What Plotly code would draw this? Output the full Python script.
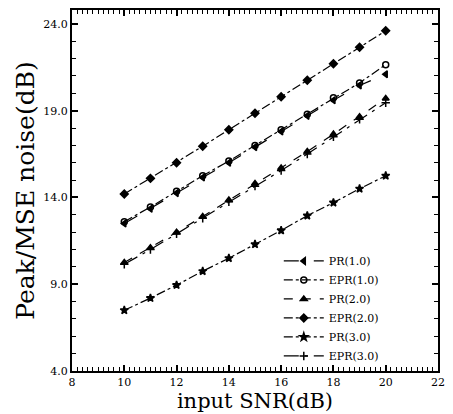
import plotly.graph_objects as go

snr = [10, 11, 12, 13, 14, 15, 16, 17, 18, 19, 20]

pr10 = [12.5, 13.35, 14.25, 15.15, 16.0, 16.9, 17.8, 18.7, 19.6, 20.45, 21.1]
epr10 = [12.6, 13.45, 14.35, 15.25, 16.1, 17.0, 17.9, 18.8, 19.75, 20.6, 21.65]
pr20 = [10.25, 11.1, 12.0, 12.9, 13.85, 14.8, 15.7, 16.65, 17.65, 18.65, 19.7]
epr20 = [14.2, 15.1, 16.0, 16.95, 17.9, 18.85, 19.8, 20.75, 21.7, 22.65, 23.6]
pr30 = [7.5, 8.2, 8.95, 9.75, 10.5, 11.3, 12.1, 12.95, 13.7, 14.5, 15.25]
epr30 = [10.15, 11.0, 11.9, 12.8, 13.75, 14.65, 15.55, 16.5, 17.5, 18.5, 19.45]

names = ["PR(1.0)", "EPR(1.0)", "PR(2.0)", "EPR(2.0)", "PR(3.0)", "EPR(3.0)"]
series = [pr10, epr10, pr20, epr20, pr30, epr30]
symbols = ["triangle-left", "circle-open", "triangle-up", "diamond", "star", "cross-thin-open"]
dashes = ["longdash", "dashdot", "dash", "dashdot", "dashdot", "longdashdot"]

font_family = "DejaVu Serif"

fig = go.Figure()
for name, ys, sym, dsh in zip(names, series, symbols, dashes):
    fig.add_trace(go.Scatter(
        x=snr, y=ys, name=name, mode="lines+markers",
        line=dict(color="black", width=1.2, dash=dsh),
        marker=dict(symbol=sym, size=6, color="black",
                    line=dict(color="black", width=1.5)),
    ))

axis_common = dict(
    showline=True, linecolor="black", linewidth=2, mirror="allticks",
    ticks="inside", tickcolor="black", ticklen=6, tickwidth=1.5,
    showgrid=False, zeroline=False,
    tickfont=dict(family=font_family, size=11, color="black"),
)

fig.update_xaxes(
    range=[8, 22], tickvals=[8, 10, 12, 14, 16, 18, 20, 22],
    ticktext=["8", "10", "12", "14", "16", "18", "20", "22"],
    minor=dict(dtick=0.2, ticks="inside", ticklen=4, tickcolor="black", tickwidth=1),
    title=dict(text="input SNR(dB)", font=dict(family=font_family, size=21, color="black"), standoff=0),
    **axis_common,
)
fig.update_yaxes(
    range=[4, 24.8], tickvals=[4, 9, 14, 19, 24],
    ticktext=["4.0", "9.0", "14.0", "19.0", "24.0"],
    minor=dict(dtick=1, ticks="inside", ticklen=4, tickcolor="black", tickwidth=1),
    title=dict(text="Peak/MSE noise(dB)", font=dict(family=font_family, size=25, color="black"), standoff=2),
    **axis_common,
)

fig.update_layout(
    width=453, height=414,
    margin=dict(l=72, r=8, t=8, b=43),
    paper_bgcolor="white", plot_bgcolor="white",
    showlegend=True,
    legend=dict(x=0.565, y=0.345, xanchor="left", yanchor="top",
                bgcolor="rgba(0,0,0,0)", borderwidth=0, tracegroupgap=0,
                font=dict(family=font_family, size=11, color="black"),
                itemwidth=40),
)

fig.write_html(
    "out.html",
    config={"displayModeBar": False},
    post_script="document.body.style.margin='0';document.body.style.overflow='hidden';",
)
